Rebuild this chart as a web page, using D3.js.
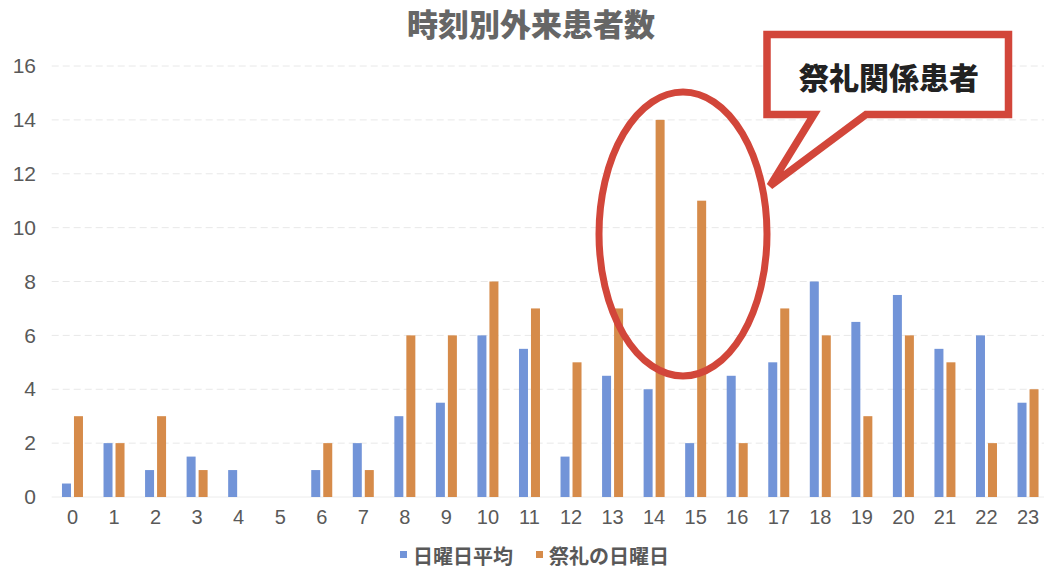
<!DOCTYPE html>
<html>
<head>
<meta charset="utf-8">
<script src="https://cdn.jsdelivr.net/npm/d3@7"></script>
<style>
  html, body { margin: 0; padding: 0; background: #fff; }
  svg { display: block; }
</style>
</head>
<body>
<svg id="chart" width="1044" height="573"></svg>
<script>
// Hourly outpatient counts: average Sunday vs. festival Sunday
const hours = d3.range(0, 24).map(String);
const sundayAvg =   [0.5, 2, 1, 1.5, 1, 0, 1, 2, 3, 3.5, 6, 5.5, 1.5, 4.5, 4, 2, 4.5, 5, 8, 6.5, 7.5, 5.5, 6, 3.5];
const festivalDay = [3, 2, 3, 1, 0, 0, 2, 1, 6, 6, 8, 7, 5, 7, 14, 11, 2, 7, 6, 3, 6, 5, 2, 4];
const seriesNames = ["日曜日平均", "祭礼の日曜日"];
const yTicks = [0, 2, 4, 6, 8, 10, 12, 14, 16];
const titleText = "時刻別外来患者数";
const calloutText = "祭礼関係患者";

const colors = ["#7294d8", "#d68b4a"];
const red = "#d2463a";
const textGray = "#595959";
const numFont = "'Liberation Sans', Arial, sans-serif";
const jpFont = "'Noto Sans CJK JP', 'Noto Sans', sans-serif";

const svg = d3.select("#chart");

const x = d3.scaleBand().domain(hours).range([51.7, 1048.8]).paddingInner(0).paddingOuter(0);
const y = d3.scaleLinear().domain([0, 16]).range([497, 66]);

const barW = 9, barGap = 3;

// gridlines
svg.append("g")
  .selectAll("line")
  .data(yTicks.filter(d => d > 0))
  .join("line")
  .attr("x1", x.range()[0]).attr("x2", x.range()[1])
  .attr("y1", d => y(d)).attr("y2", d => y(d))
  .attr("stroke", "#e8e8e8").attr("stroke-width", 1)
  .attr("stroke-dasharray", "7,4");

// baseline
svg.append("line")
  .attr("x1", x.range()[0]).attr("x2", x.range()[1])
  .attr("y1", y(0)).attr("y2", y(0))
  .attr("stroke", "#ececec").attr("stroke-width", 1);

// y axis labels
const yAxis = d3.axisLeft(y).tickValues(yTicks).tickSize(0).tickPadding(0);
svg.append("g")
  .attr("transform", "translate(36,0)")
  .call(yAxis)
  .call(g => g.select(".domain").remove())
  .call(g => g.selectAll("text")
    .attr("font-family", numFont).attr("font-size", 21).attr("fill", textGray));

// x axis labels
const xAxis = d3.axisBottom(x).tickSize(0).tickPadding(0);
svg.append("g")
  .attr("transform", `translate(0,${y(0) + 13})`)
  .call(xAxis)
  .call(g => g.select(".domain").remove())
  .call(g => g.selectAll("text")
    .attr("font-family", numFont).attr("font-size", 20).attr("fill", textGray));

// bars
const groupW = barW * 2 + barGap;
[sundayAvg, festivalDay].forEach((vals, si) => {
  svg.append("g")
    .selectAll("rect")
    .data(vals.map((v, i) => ({ h: hours[i], v })))
    .join("rect")
    .attr("x", d => x(d.h) + x.bandwidth() / 2 - groupW / 2 + si * (barW + barGap))
    .attr("width", barW)
    .attr("y", d => y(d.v))
    .attr("height", d => y(0) - y(d.v))
    .attr("fill", colors[si]);
});

// title
svg.append("text")
  .attr("x", 531).attr("y", 36)
  .attr("text-anchor", "middle")
  .attr("font-family", jpFont).attr("font-weight", 900)
  .attr("font-size", 31).attr("fill", "#666")
  .text(titleText);

// legend
const legend = svg.append("g");
const legendItems = [
  { name: seriesNames[0], color: colors[0], x: 400 },
  { name: seriesNames[1], color: colors[1], x: 536 }
];
legendItems.forEach(it => {
  legend.append("rect")
    .attr("x", it.x).attr("y", 551).attr("width", 7).attr("height", 7)
    .attr("fill", it.color);
  legend.append("text")
    .attr("x", it.x + 13).attr("y", 563.5)
    .attr("font-family", jpFont).attr("font-weight", 700)
    .attr("font-size", 20).attr("fill", textGray)
    .text(it.name);
});

// highlight ellipse around the festival peak
svg.append("ellipse")
  .attr("cx", 683).attr("cy", 234)
  .attr("rx", 84).attr("ry", 142)
  .attr("fill", "none")
  .attr("stroke", red).attr("stroke-width", 7);

// speech-bubble callout
svg.append("path")
  .attr("d", "M767,34.5 H1008.5 V114.5 H866 L770,186 L814,114.5 H767 Z")
  .attr("fill", "#fff")
  .attr("stroke", red).attr("stroke-width", 7.5)
  .attr("stroke-linejoin", "miter");
svg.append("text")
  .attr("x", 889).attr("y", 89)
  .attr("text-anchor", "middle")
  .attr("font-family", jpFont).attr("font-weight", 900)
  .attr("font-size", 30).attr("fill", "#222")
  .text(calloutText);
</script>
</body>
</html>
